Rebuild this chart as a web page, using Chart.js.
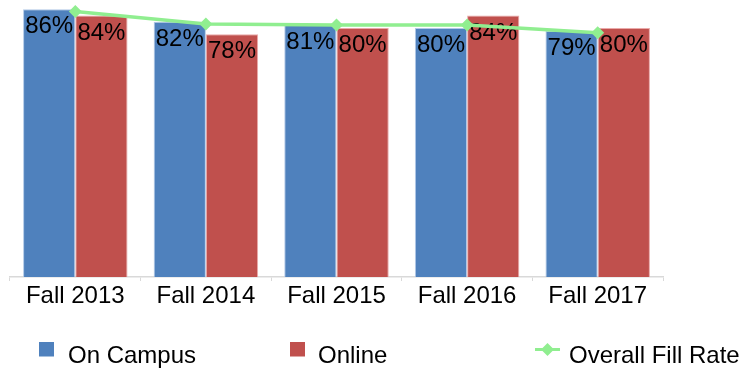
<!DOCTYPE html>
<html>
<head>
<meta charset="utf-8">
<script src="https://cdn.jsdelivr.net/npm/chart.js@4/dist/chart.umd.min.js"></script>
<style>
  html, body { margin: 0; padding: 0; background: #ffffff; }
  #wrap { width: 752px; height: 370px; position: relative; }
</style>
</head>
<body>
<div id="wrap"><canvas id="chart" width="752" height="370"></canvas></div>
<script>
// Fill rates by term
const categories = ['Fall 2013', 'Fall 2014', 'Fall 2015', 'Fall 2016', 'Fall 2017'];
const onCampus = [0.86, 0.82, 0.81, 0.80, 0.79];
const online = [0.84, 0.78, 0.80, 0.84, 0.80];
const overallFillRate = [0.853, 0.813, 0.81, 0.81, 0.785];

const FONT = '"Liberation Sans", Arial, Helvetica, sans-serif';
const BLUE = '#4F81BD';
const RED = '#C0504D';
const GREEN = '#90EE90';

// Percentage labels just inside the top of each bar, drawn before the line so it sits on top
const barLabels = {
  id: 'barLabels',
  beforeDatasetDraw(chart, args) {
    if (chart.data.datasets[args.index].type !== 'line') return;
    const ctx = chart.ctx;
    ctx.save();
    ctx.font = '24px ' + FONT;
    ctx.fillStyle = '#000000';
    ctx.textAlign = 'center';
    ctx.textBaseline = 'alphabetic';
    chart.data.datasets.forEach((ds, i) => {
      if (ds.type === 'line') return;
      const meta = chart.getDatasetMeta(i);
      meta.data.forEach((bar, j) => {
        ctx.fillText(Math.round(ds.data[j] * 100) + '%', bar.x, bar.y + 24);
      });
    });
    ctx.restore();
  }
};

// Legend spread across the bottom of the chart
const spreadLegend = {
  id: 'spreadLegend',
  afterDraw(chart) {
    const ctx = chart.ctx;
    const slots = [
      { box: 39, text: 68 },
      { box: 290, text: 318 },
      { box: 535, text: 569 }
    ];
    ctx.save();
    ctx.font = '24px ' + FONT;
    ctx.textAlign = 'left';
    ctx.textBaseline = 'alphabetic';
    chart.data.datasets.forEach((ds, i) => {
      const s = slots[i];
      if (ds.type === 'line') {
        ctx.strokeStyle = ds.borderColor;
        ctx.lineWidth = 3;
        ctx.beginPath();
        ctx.moveTo(s.box, 349.5);
        ctx.lineTo(s.box + 25, 349.5);
        ctx.stroke();
        ctx.fillStyle = ds.pointBackgroundColor;
        ctx.beginPath();
        ctx.moveTo(s.box + 12.5, 343);
        ctx.lineTo(s.box + 19, 349.5);
        ctx.lineTo(s.box + 12.5, 356);
        ctx.lineTo(s.box + 6, 349.5);
        ctx.closePath();
        ctx.fill();
      } else {
        ctx.fillStyle = ds.backgroundColor;
        ctx.fillRect(s.box, 342, 15, 14.5);
      }
      ctx.fillStyle = '#000000';
      ctx.fillText(ds.label, s.text, 363);
    });
    ctx.restore();
  }
};

new Chart(document.getElementById('chart'), {
  type: 'bar',
  data: {
    labels: categories,
    datasets: [
      {
        label: 'On Campus',
        data: onCampus,
        backgroundColor: BLUE,
        borderColor: 'rgba(170,195,228,0.9)',
        borderWidth: 1,
        order: 1,
        barPercentage: 1.0,
        categoryPercentage: 0.8
      },
      {
        label: 'Online',
        data: online,
        backgroundColor: RED,
        borderColor: 'rgba(232,160,160,0.9)',
        borderWidth: 1,
        order: 1,
        barPercentage: 1.0,
        categoryPercentage: 0.8
      },
      {
        type: 'line',
        label: 'Overall Fill Rate',
        data: overallFillRate,
        borderColor: GREEN,
        backgroundColor: GREEN,
        pointBackgroundColor: GREEN,
        pointBorderColor: GREEN,
        borderWidth: 3.5,
        pointStyle: 'rectRot',
        pointRadius: 6.5,
        pointBorderWidth: 0,
        tension: 0,
        fill: false,
        clip: false,
        order: 0
      }
    ]
  },
  options: {
    responsive: false,
    animation: false,
    devicePixelRatio: 1,
    layout: { autoPadding: false, padding: { left: 10, right: 89, top: 0, bottom: 0 } },
    plugins: {
      legend: { display: false },
      tooltip: { enabled: false }
    },
    scales: {
      x: {
        offset: true,
        grid: {
          display: true,
          drawOnChartArea: false,
          drawTicks: true,
          tickLength: 4,
          color: '#d9d9d9',
          offset: true
        },
        border: { display: true, color: '#d9d9d9', width: 1.5 },
        ticks: {
          color: '#000000',
          font: { family: FONT, size: 24 },
          padding: 1,
          maxRotation: 0,
          autoSkip: false
        },
        afterFit(scale) { scale.height = 93; }
      },
      y: {
        display: false,
        min: 0,
        max: 0.89
      }
    }
  },
  plugins: [barLabels, spreadLegend]
});
</script>
</body>
</html>
